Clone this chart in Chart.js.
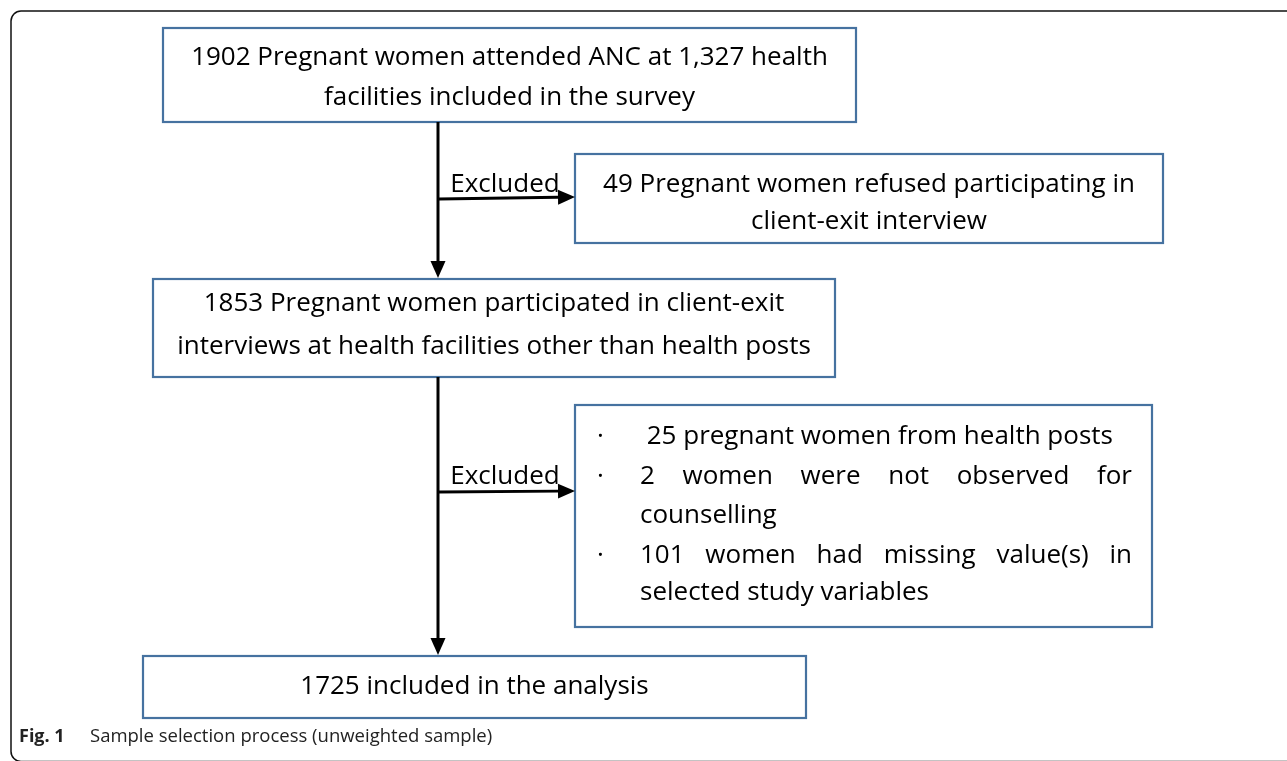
<!DOCTYPE html>
<html>
<head>
<meta charset="utf-8">
<script src="https://cdn.jsdelivr.net/npm/chart.js@4/dist/chart.umd.min.js"></script>
<style>
  html, body { margin: 0; padding: 0; background: #fff; }
  #wrap { width: 1287px; height: 761px; position: relative; }
</style>
</head>
<body>
<div id="wrap"><canvas id="flow"></canvas></div>
<script>
// counts in the flow
let attended = 1902
let facilities = '1,327'
let refused = 49
let participated = 1853
let healthPosts = 25
let notObserved = 2
let missing = 101
let included = 1725

let stepLabels = [
    [attended + ' Pregnant women attended ANC at ' + facilities + ' health', 'facilities included in the survey'],
    [refused + ' Pregnant women refused participating in', 'client-exit interview'],
    [participated + ' Pregnant women participated in client-exit', 'interviews at health facilities other than health posts'],
    [included + ' included in the analysis']
]
let exclusionItems = [
    [' ' + healthPosts + ' pregnant women from health posts'],
    [notObserved + ' women were not observed for', 'counselling'],
    [missing + ' women had missing value(s) in', 'selected study variables']
]
let arrowLabel = 'Excluded'
let captionBold = 'Fig. 1'
let captionText = 'Sample selection process (unweighted sample)'

// layout in scale units (x 0..1287, y 0..761 top-down)
let boxes = [
    { x0: 163, x1: 856, y0: 28, y1: 122, lines: [58, 98] },
    { x0: 575, x1: 1163, y0: 154, y1: 243, lines: [185, 222] },
    { x0: 153, x1: 835, y0: 279, y1: 377, lines: [304, 347] },
    { x0: 143, x1: 806, y0: 656, y1: 718, lines: [687] }
]
let listBox = { x0: 575, x1: 1152, y0: 405, y1: 627, bulletX: 597, textX: 640, textX1: 1132,
    lines: [437, 477, 516, 556, 593] }

const FONT = '"Open Sans", "Noto Sans", sans-serif'
const BLUE = '#4672a0'

function arrow(ctx, x0, y0, x1, y1) {
    let ang = Math.atan2(y1 - y0, x1 - x0)
    let len = 17, half = 7.5
    ctx.strokeStyle = '#000'
    ctx.fillStyle = '#000'
    ctx.lineWidth = 3
    ctx.beginPath()
    ctx.moveTo(x0, y0)
    ctx.lineTo(x1 - Math.cos(ang) * len, y1 - Math.sin(ang) * len)
    ctx.stroke()
    ctx.beginPath()
    ctx.moveTo(x1, y1)
    ctx.lineTo(x1 - Math.cos(ang) * len - Math.sin(ang) * half, y1 - Math.sin(ang) * len + Math.cos(ang) * half)
    ctx.lineTo(x1 - Math.cos(ang) * len + Math.sin(ang) * half, y1 - Math.sin(ang) * len - Math.cos(ang) * half)
    ctx.closePath()
    ctx.fill()
}

function justify(ctx, text, x0, x1, y) {
    let words = text.trim().split(/\s+/)
    let total = words.reduce((s, w) => s + ctx.measureText(w).width, 0)
    let gap = (x1 - x0 - total) / (words.length - 1)
    let x = x0
    words.forEach(w => {
        ctx.fillText(w, x, y)
        x += ctx.measureText(w).width + gap
    })
}

const flowPlugin = {
    id: 'flow',
    afterDraw(chart) {
        let ctx = chart.ctx
        let sx = v => chart.scales.x.getPixelForValue(v)
        let sy = v => chart.scales.y.getPixelForValue(v)
        ctx.save()

        // outer frame
        ctx.strokeStyle = '#111'
        ctx.lineWidth = 1.5
        ctx.beginPath()
        ctx.roundRect(sx(11), sy(11), sx(1300) - sx(11), sy(761.5) - sy(11), 10)
        ctx.stroke()

        // boxes
        ctx.strokeStyle = BLUE
        ctx.lineWidth = 2.2
        boxes.concat([listBox]).forEach(b => {
            ctx.strokeRect(sx(b.x0), sy(b.y0), sx(b.x1) - sx(b.x0), sy(b.y1) - sy(b.y0))
        })

        ctx.fillStyle = '#000'
        ctx.font = '26px ' + FONT
        ctx.textBaseline = 'middle'
        ctx.textAlign = 'center'
        boxes.forEach((b, i) => {
            stepLabels[i].forEach((t, j) => ctx.fillText(t, sx((b.x0 + b.x1) / 2), sy(b.lines[j])))
        })

        // exclusion list
        ctx.textAlign = 'left'
        let row = 0
        exclusionItems.forEach(item => {
            ctx.fillText('·', sx(listBox.bulletX), sy(listBox.lines[row]))
            item.forEach((t, j) => {
                let y = sy(listBox.lines[row])
                if (item.length > 1 && j < item.length - 1) justify(ctx, t, sx(listBox.textX), sx(listBox.textX1), y)
                else ctx.fillText(t, sx(listBox.textX), y)
                row++
            })
        })

        // arrows
        arrow(ctx, sx(438), sy(122), sx(438), sy(278))
        arrow(ctx, sx(438), sy(377), sx(438), sy(655))
        arrow(ctx, sx(439), sy(199), sx(575), sy(197))
        arrow(ctx, sx(439), sy(492), sx(575), sy(491))

        ctx.fillStyle = '#000'
        ctx.textAlign = 'center'
        ctx.fillText(arrowLabel, sx(505), sy(185))
        ctx.fillText(arrowLabel, sx(505), sy(477))

        // caption
        ctx.textAlign = 'left'
        ctx.fillStyle = '#222'
        ctx.font = 'bold 18px ' + FONT
        ctx.fillText(captionBold, sx(19), sy(737))
        ctx.font = '18.5px ' + FONT
        ctx.fillText(captionText, sx(90), sy(737))
        ctx.restore()
    }
}

new Chart(document.getElementById('flow'), {
    type: 'scatter',
    data: { datasets: [{ data: [], pointRadius: 0 }] },
    options: {
        responsive: true,
        maintainAspectRatio: false,
        animation: false,
        layout: { padding: 0 },
        plugins: { legend: { display: false }, tooltip: { enabled: false } },
        scales: {
            x: { type: 'linear', min: 0, max: 1287, display: false },
            y: { type: 'linear', min: 0, max: 761, reverse: true, display: false }
        }
    },
    plugins: [flowPlugin]
})
</script>
</body>
</html>
